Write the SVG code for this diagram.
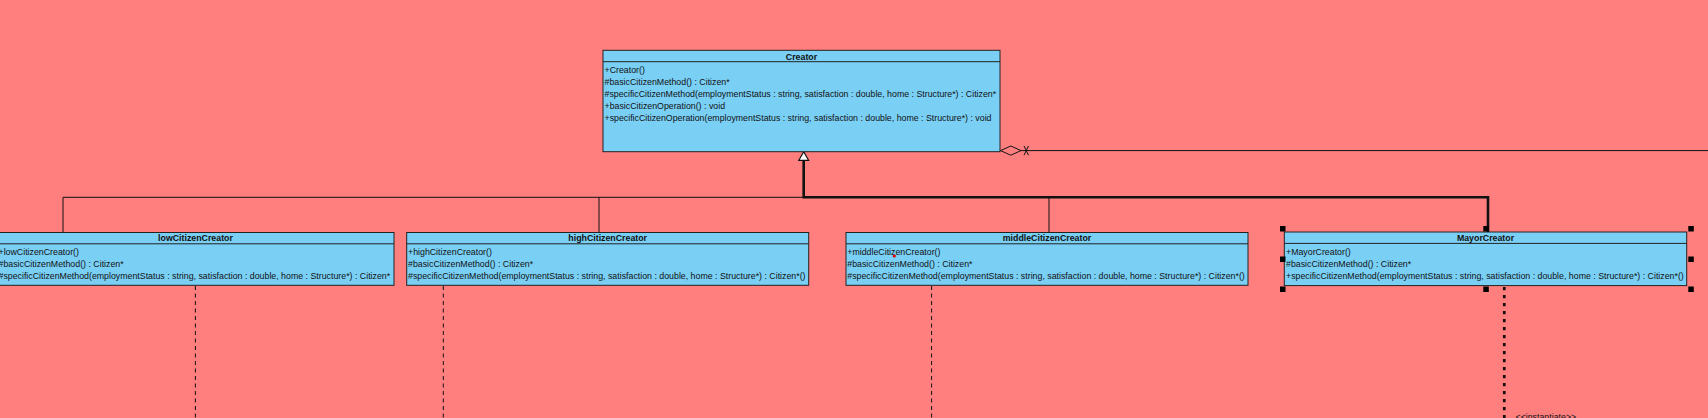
<svg xmlns="http://www.w3.org/2000/svg" width="1708" height="418" viewBox="0 0 1708 418">
<style>
.bg{fill:#FF7F7F}
.box{fill:#7ACFF5;stroke:#222;stroke-width:1}
.sep{stroke:#222;stroke-width:1}
.t{font-family:"Liberation Sans",Arial,sans-serif;font-size:8.8px;fill:#111}
.title{font-family:"Liberation Sans",Arial,sans-serif;font-size:8.8px;font-weight:bold;fill:#111;text-anchor:middle}
.ln{fill:none;stroke:#111;stroke-width:1}
.thick{fill:none;stroke:#111;stroke-width:2.6}
.dash{fill:none;stroke:#111;stroke-width:1;stroke-dasharray:4,3.5}
.dot{fill:none;stroke:#111;stroke-width:2.7;stroke-dasharray:3.3,4.7}
.h{fill:#000}
</style>
<rect class="bg" x="0" y="0" width="1708" height="418"/>

<g id="connectors">
  <path class="ln" d="M63,232 V197.3 H1049 V232"/>
  <path class="ln" d="M599,197.3 V232"/>
  <path class="thick" d="M803.7,160 V197.3 H1488 V232"/>
  <polygon points="803.7,151.8 798.8,160.3 808.6,160.3" fill="#fff" stroke="#111" stroke-width="1.2"/>
  <line class="ln" x1="1021" y1="150.6" x2="1708" y2="150.6"/>
  <polygon points="1000.5,150.6 1010.8,146 1021,150.6 1010.8,155.2" fill="none" stroke="#111" stroke-width="1"/>
  <line class="ln" x1="1024" y1="146" x2="1028.5" y2="155.2"/>
  <line class="ln" x1="1028.5" y1="146" x2="1024" y2="155.2"/>
  <line class="dash" x1="195.4" y1="286" x2="195.4" y2="418"/>
  <line class="dash" x1="443.3" y1="286" x2="443.3" y2="418"/>
  <line class="dash" x1="931.6" y1="286" x2="931.6" y2="418"/>
  <line class="dot" x1="1504.3" y1="287" x2="1504.3" y2="418"/>
  <text class="t" x="1515.5" y="420.3">&lt;&lt;instantiate&gt;&gt;</text>
</g>

<g id="Creator">
  <rect class="box" x="603" y="50.3" width="397" height="101.4"/>
  <line class="sep" x1="603" y1="61.7" x2="1000" y2="61.7"/>
  <text class="title" x="801.5" y="59.6">Creator</text>
  <text class="t" x="604.5" y="73.3">+Creator()</text>
  <text class="t" x="604.5" y="85.2">#basicCitizenMethod() : Citizen*</text>
  <text class="t" x="604.5" y="97.1">#specificCitizenMethod(employmentStatus : string, satisfaction : double, home : Structure*) : Citizen*</text>
  <text class="t" x="604.5" y="109">+basicCitizenOperation() : void</text>
  <text class="t" x="604.5" y="121">+specificCitizenOperation(employmentStatus : string, satisfaction : double, home : Structure*) : void</text>
</g>

<g id="lowCitizenCreator">
  <rect class="box" x="-3" y="232.5" width="397" height="52.8"/>
  <line class="sep" x1="-3" y1="243.8" x2="394" y2="243.8"/>
  <text class="title" x="195.5" y="240.8">lowCitizenCreator</text>
  <text class="t" x="-1.5" y="254.8">+lowCitizenCreator()</text>
  <text class="t" x="-1.5" y="267">#basicCitizenMethod() : Citizen*</text>
  <text class="t" x="-1.5" y="279.3">#specificCitizenMethod(employmentStatus : string, satisfaction : double, home : Structure*) : Citizen*</text>
</g>

<g id="highCitizenCreator">
  <rect class="box" x="406.7" y="232.5" width="402" height="52.8"/>
  <line class="sep" x1="406.7" y1="243.8" x2="808.7" y2="243.8"/>
  <text class="title" x="607.7" y="240.8">highCitizenCreator</text>
  <text class="t" x="408" y="254.8">+highCitizenCreator()</text>
  <text class="t" x="408" y="267">#basicCitizenMethod() : Citizen*</text>
  <text class="t" x="408" y="279.3">#specificCitizenMethod(employmentStatus : string, satisfaction : double, home : Structure*) : Citizen*()</text>
</g>

<g id="middleCitizenCreator">
  <rect class="box" x="846" y="232.5" width="402" height="52.8"/>
  <line class="sep" x1="846" y1="243.8" x2="1248" y2="243.8"/>
  <text class="title" x="1047" y="240.8">middleCitizenCreator</text>
  <text class="t" x="847.3" y="254.8">+middleCitizenCreator()</text>
  <text class="t" x="847.3" y="267">#basicCitizenMethod() : Citizen*</text>
  <text class="t" x="847.3" y="279.3">#specificCitizenMethod(employmentStatus : string, satisfaction : double, home : Structure*) : Citizen*()</text>
  <circle cx="894.3" cy="256" r="1.6" fill="#E00000"/>
</g>

<g id="MayorCreator">
  <rect class="box" x="1284.3" y="232" width="402.4" height="53.6"/>
  <line class="sep" x1="1284.3" y1="243.4" x2="1686.7" y2="243.4"/>
  <text class="title" x="1485.5" y="240.7">MayorCreator</text>
  <text class="t" x="1286" y="255">+MayorCreator()</text>
  <text class="t" x="1286" y="266.9">#basicCitizenMethod() : Citizen*</text>
  <text class="t" x="1286" y="278.8">+specificCitizenMethod(employmentStatus : string, satisfaction : double, home : Structure*) : Citizen*()</text>
  <rect class="h" x="1280" y="226" width="5.5" height="5.5"/>
  <rect class="h" x="1483.3" y="226" width="5.5" height="5.5"/>
  <rect class="h" x="1688.3" y="226" width="5.5" height="5.5"/>
  <rect class="h" x="1280" y="256.5" width="5.5" height="5.5"/>
  <rect class="h" x="1688.3" y="256.5" width="5.5" height="5.5"/>
  <rect class="h" x="1280" y="286.5" width="5.5" height="5.5"/>
  <rect class="h" x="1483.3" y="286.5" width="5.5" height="5.5"/>
  <rect class="h" x="1688.3" y="286.5" width="5.5" height="5.5"/>
</g>
</svg>
